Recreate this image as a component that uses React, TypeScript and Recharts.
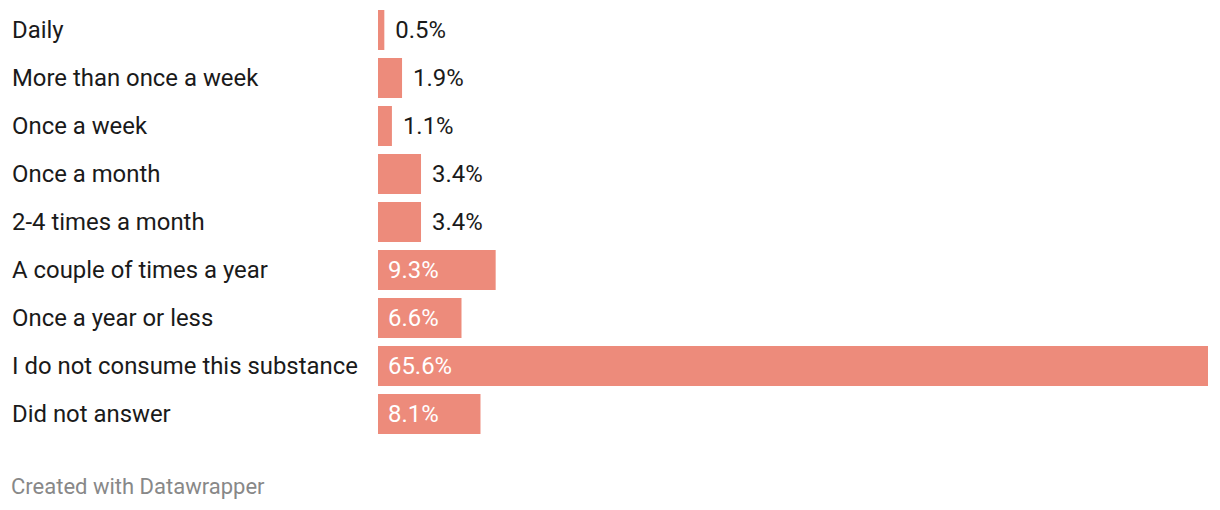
import { BarChart, Bar, XAxis, YAxis, LabelList, Cell } from 'recharts';

const categories = [
  'Daily',
  'More than once a week',
  'Once a week',
  'Once a month',
  '2-4 times a month',
  'A couple of times a year',
  'Once a year or less',
  'I do not consume this substance',
  'Did not answer',
];

const shares = [0.5, 1.9, 1.1, 3.4, 3.4, 9.3, 6.6, 65.6, 8.1];

const BAR_COLOR = '#ed8b7b';
const FONT = 'Roboto, "Noto Sans", sans-serif';
const LABEL_SIZE = 23.9;

const data = categories.map((name, i) => ({ name, value: shares[i] }));

const CategoryTick = (props: any) => {
  const { y, payload } = props;
  return (
    <text x={12} y={y} textAnchor="start" dominantBaseline="central" fontSize={LABEL_SIZE} fontFamily={FONT} fill="#1a1a1a">
      {payload.value}
    </text>
  );
};

const ValueLabel = (props: any) => {
  const { x, y, width, height, value } = props;
  const inside = value > 5;
  return (
    <text
      x={inside ? x + 10 : x + width + 11}
      y={y + height / 2}
      dominantBaseline="central"
      fontSize={LABEL_SIZE}
      fontFamily={FONT}
      fill={inside ? '#ffffff' : '#1a1a1a'}
    >
      {value.toFixed(1)}%
    </text>
  );
};

export default function App() {
  return (
    <div style={{ position: 'absolute', left: 0, top: 0, width: 1220, height: 510, background: '#fff' }}>
      <BarChart
        width={1220}
        height={440}
        data={data}
        layout="vertical"
        margin={{ top: 6, right: 12, bottom: 2, left: 0 }}
        barCategoryGap={4}
      >
        <XAxis type="number" domain={[0, 65.6]} hide />
        <YAxis type="category" dataKey="name" width={378} axisLine={false} tickLine={false} tick={<CategoryTick />} />
        <Bar dataKey="value" fill={BAR_COLOR} isAnimationActive={false}>
          {data.map((d) => (
            <Cell key={d.name} fill={BAR_COLOR} />
          ))}
          <LabelList dataKey="value" content={<ValueLabel />} />
        </Bar>
      </BarChart>
      <div
        style={{
          position: 'absolute',
          left: 11,
          top: 474,
          fontFamily: FONT,
          fontSize: 22,
          color: '#888888',
          lineHeight: '26px',
        }}
      >
        Created with Datawrapper
      </div>
    </div>
  );
}
